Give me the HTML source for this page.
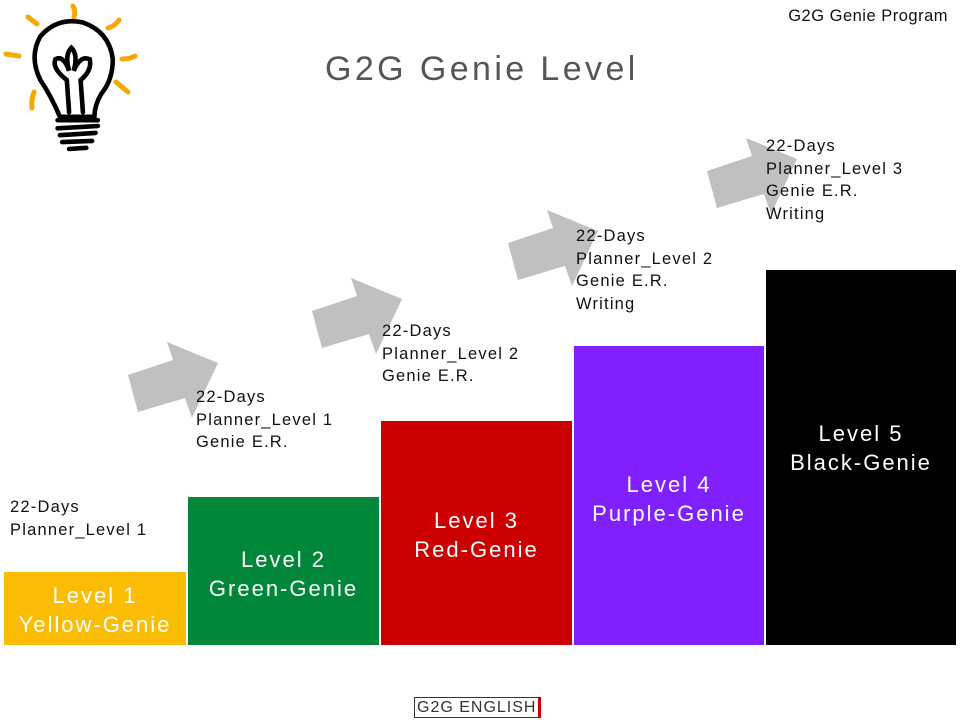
<!DOCTYPE html>
<html><head><style>
body{margin:0;width:960px;height:720px;background:#fff;position:relative;overflow:hidden;font-family:"Liberation Sans",sans-serif;}
.a{position:absolute;}
.bar{position:absolute;bottom:75px;color:#fff;font-size:22px;letter-spacing:2px;text-align:center;line-height:29px;box-sizing:border-box;}
.t{position:absolute;font-size:16.5px;letter-spacing:1.2px;line-height:22.5px;color:#111;}
</style></head><body>
<div class="a" style="right:12px;top:7px;font-size:16.5px;letter-spacing:0.5px;color:#111">G2G Genie Program</div>
<div class="a" style="left:325px;top:50px;font-size:34px;letter-spacing:3.4px;color:#555">G2G Genie Level</div>
<svg class="a" style="left:0;top:0" width="960" height="720">
<g stroke="#f5a800" stroke-width="5" stroke-linecap="round" fill="none">
<path d="M73 6 Q76 12 74 17"/><path d="M28 17 L37 24"/><path d="M108 28 Q115 26 119 20"/><path d="M6 54 L19 56"/><path d="M122 59 Q130 59 135 56"/><path d="M116 82 L128 92"/><path d="M34 92 Q31 100 32 108"/>
</g>
<g stroke="#000" stroke-width="4" fill="none" stroke-linecap="round" transform="translate(76,80) scale(1.15) translate(-76,-80)">
<path d="M62 112 Q55 95 45 80 Q35 60 45 42 Q60 25 82 30 Q105 38 108 62 Q108 80 98 92 Q92 102 92 112 Z"/>
<path d="M70 108 L68 80 Q55 70 58 62 Q65 58 70 72 Q66 58 72 52 Q78 58 74 72 Q80 58 88 62 Q90 72 80 80 L82 108"/>
<path d="M60 115 L95 115 M60 122 L95 120 M62 128 L93 126 M64 134 L90 133 M70 140 L85 139"/>
</g>
<g fill="#c0c0c0">
<polygon points="128,375 173,360 167,342 218,363 192,418 185,398 138,412"/>
<polygon transform="translate(184,-64)" points="128,375 173,360 167,342 218,363 192,418 185,398 138,412"/>
<polygon transform="translate(380,-132)" points="128,375 173,360 167,342 218,363 192,418 185,398 138,412"/>
<polygon transform="translate(579,-204)" points="128,375 173,360 167,342 218,363 192,418 185,398 138,412"/>
</g>
</svg>
<div class="bar" style="left:4px;width:182px;height:73px;background:#fbbc04;padding-top:9px">Level 1<br>Yellow-Genie</div>
<div class="bar" style="left:188px;width:191px;height:148px;background:#00873a;padding-top:48px">Level 2<br>Green-Genie</div>
<div class="bar" style="left:381px;width:191px;height:224px;background:#cc0000;padding-top:85px">Level 3<br>Red-Genie</div>
<div class="bar" style="left:574px;width:190px;height:299px;background:#8020ff;padding-top:124px">Level 4<br>Purple-Genie</div>
<div class="bar" style="left:766px;width:190px;height:375px;background:#000;padding-top:149px">Level 5<br>Black-Genie</div>
<div class="t" style="left:10px;top:496px">22-Days<br>Planner_Level 1</div>
<div class="t" style="left:196px;top:386px">22-Days<br>Planner_Level 1<br>Genie E.R.</div>
<div class="t" style="left:382px;top:320px">22-Days<br>Planner_Level 2<br>Genie E.R.</div>
<div class="t" style="left:576px;top:225px">22-Days<br>Planner_Level 2<br>Genie E.R.<br>Writing</div>
<div class="t" style="left:766px;top:135px">22-Days<br>Planner_Level 3<br>Genie E.R.<br>Writing</div>
<div class="a" style="left:414px;top:697px;border:1.5px solid #333;border-right:3px solid #cc0000;padding:0 2px;font-size:16px;letter-spacing:1px;line-height:19px;color:#333">G2G ENGLISH</div>
</body></html>
